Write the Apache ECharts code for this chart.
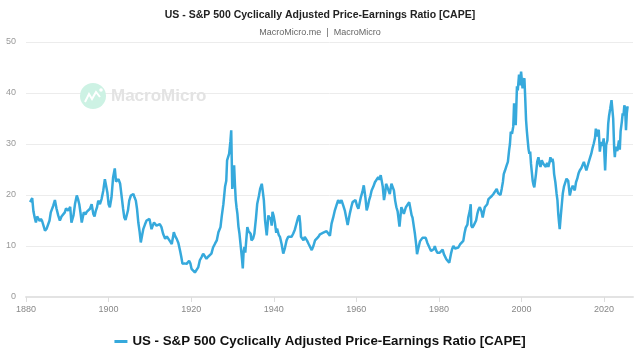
<!DOCTYPE html>
<html>
<head>
<meta charset="utf-8">
<script src="https://cdn.jsdelivr.net/npm/echarts@6/dist/echarts.min.js"></script>
<style>html,body{margin:0;padding:0;background:#fff;}#c{width:640px;height:360px;}</style>
</head>
<body>
<div id="c"></div>
<script>
var titleText = 'US - S&P 500 Cyclically Adjusted Price-Earnings Ratio [CAPE]';
var subText = 'MacroMicro.me  |  MacroMicro';
var seriesName = 'US - S&P 500 Cyclically Adjusted Price-Earnings Ratio [CAPE]';
var yTicks = [0, 10, 20, 30, 40, 50];
var xTicks = [1880, 1900, 1920, 1940, 1960, 1980, 2000, 2020];

var years = [
1881.0,1881.3,1881.5,1881.8,1882.1,1882.4,1882.7,1883.0,1883.3,1883.6,1883.9,1884.2,1884.6,1885.0,1885.4,1885.7,1886.0,1886.3,1886.6,1887.0,
1887.4,1887.8,1888.2,1888.6,1889.0,1889.4,1889.7,1890.2,1890.7,1891.0,1891.5,1891.9,1892.3,1892.6,1892.9,1893.2,1893.5,1894.0,1894.4,1894.7,
1895.1,1895.5,1895.9,1896.3,1896.6,1896.9,1897.2,1897.5,1897.9,1898.3,1898.7,1899.1,1899.4,1899.7,1900.0,1900.3,1900.7,1901.1,1901.5,1901.8,
1902.0,1902.4,1902.8,1903.2,1903.5,1903.8,1904.1,1904.4,1904.7,1905.0,1905.4,1905.7,1906.0,1906.3,1906.6,1906.9,1907.2,1907.5,1907.8,1908.1,
1908.4,1908.8,1909.2,1909.6,1909.9,1910.2,1910.4,1910.7,1911.0,1911.3,1911.6,1912.0,1912.4,1912.8,1913.2,1913.7,1914.1,1914.5,1914.9,1915.3,
1915.8,1916.1,1916.5,1916.9,1917.3,1917.6,1917.9,1918.4,1918.9,1919.2,1919.5,1919.8,1920.1,1920.5,1920.9,1921.3,1921.7,1922.1,1922.5,1922.9,
1923.3,1923.7,1924.1,1924.5,1924.9,1925.3,1925.8,1926.2,1926.6,1927.1,1927.4,1927.8,1928.2,1928.5,1928.7,1929.0,1929.2,1929.5,1929.7,1929.95,
1930.2,1930.4,1930.6,1930.8,1931.0,1931.2,1931.45,1931.7,1932.1,1932.3,1932.5,1932.7,1932.9,1933.1,1933.3,1933.6,1933.9,1934.1,1934.4,1934.6,
1935.0,1935.3,1935.7,1936.0,1936.4,1936.7,1937.1,1937.3,1937.6,1937.9,1938.3,1938.5,1938.7,1939.0,1939.2,1939.5,1939.7,1940.0,1940.3,1940.6,
1940.8,1941.2,1941.5,1941.9,1942.3,1942.7,1943.1,1943.5,1943.9,1944.3,1944.7,1945.1,1945.5,1945.9,1946.2,1946.4,1946.6,1946.9,1947.2,1947.5,
1947.8,1948.1,1948.4,1948.8,1949.2,1949.6,1950.0,1950.4,1950.8,1951.2,1951.6,1952.0,1952.4,1952.8,1953.2,1953.6,1954.0,1954.4,1954.8,1955.2,
1955.6,1956.0,1956.4,1956.8,1957.2,1957.6,1957.9,1958.4,1958.8,1959.1,1959.5,1959.8,1960.2,1960.5,1960.8,1961.1,1961.5,1961.8,1962.2,1962.5,
1962.8,1963.1,1963.4,1963.7,1964.1,1964.5,1964.9,1965.3,1965.6,1965.9,1966.1,1966.4,1966.7,1967.0,1967.2,1967.5,1967.7,1968.1,1968.5,1968.9,
1969.1,1969.4,1969.7,1970.0,1970.45,1970.9,1971.2,1971.5,1972.0,1972.4,1972.8,1973.0,1973.4,1973.6,1974.0,1974.2,1974.5,1974.7,1975.0,1975.4,
1975.7,1976.0,1976.4,1976.8,1977.2,1977.7,1978.1,1978.5,1978.8,1979.0,1979.3,1979.6,1980.2,1980.6,1980.9,1981.2,1981.5,1981.8,1982.2,1982.5,
1982.9,1983.2,1983.5,1983.9,1984.3,1984.7,1985.1,1985.5,1985.9,1986.2,1986.5,1986.9,1987.1,1987.5,1987.7,1987.85,1988.1,1988.4,1988.7,1989.0,
1989.3,1989.6,1989.9,1990.3,1990.6,1990.9,1991.1,1991.4,1991.7,1992.0,1992.4,1992.8,1993.2,1993.6,1994.0,1994.3,1994.6,1994.9,1995.2,1995.5,
1995.7,1996.0,1996.4,1996.7,1997.0,1997.2,1997.4,1997.7,1998.0,1998.2,1998.4,1998.6,1998.9,1999.1,1999.4,1999.6,1999.9,2000.25,2000.5,2000.7,
2000.9,2001.1,2001.3,2001.5,2001.7,2001.9,2002.1,2002.3,2002.5,2002.7,2002.9,2003.1,2003.3,2003.5,2003.8,2004.1,2004.4,2004.6,2004.9,2005.3,
2005.6,2005.9,2006.2,2006.5,2006.8,2007.0,2007.3,2007.5,2007.7,2007.9,2008.2,2008.5,2008.7,2008.9,2009.1,2009.25,2009.5,2009.7,2010.0,2010.3,
2010.5,2010.9,2011.3,2011.7,2012.0,2012.4,2012.9,2013.2,2013.5,2013.8,2014.1,2014.5,2014.8,2015.1,2015.3,2015.7,2016.1,2016.4,2016.7,2016.9,
2017.2,2017.5,2017.8,2018.0,2018.2,2018.4,2018.7,2018.97,2019.2,2019.4,2019.6,2019.9,2020.1,2020.25,2020.5,2020.8,2021.0,2021.2,2021.5,2021.8,
2022.0,2022.2,2022.45,2022.6,2022.8,2023.0,2023.2,2023.4,2023.6,2023.8,2024.0,2024.3,2024.5,2024.7,2024.9,2025.1,2025.3,2025.5,2025.7
];

var cape = [
18.6,18.9,19.4,16.8,15.6,14.6,15.8,15.6,14.9,15.3,14.9,14.6,13.0,13.4,13.5,15.0,16.6,16.9,17.9,19.0,
17.3,16.0,15.0,15.8,16.0,16.6,17.4,16.9,17.7,14.6,16.0,18.4,19.9,19.2,18.2,16.5,14.6,16.6,16.2,16.7,
16.6,17.3,18.2,16.3,15.8,16.9,17.6,18.9,18.2,19.2,20.8,23.1,21.8,20.5,18.2,17.6,19.5,23.5,25.2,22.6,
22.5,23.1,22.2,19.5,17.4,15.6,15.1,15.3,17.0,18.9,19.9,19.6,20.2,19.5,18.9,17.2,14.6,12.9,10.7,12.0,
13.3,14.2,15.0,15.0,15.3,14.1,13.3,14.0,14.6,14.4,14.0,14.0,14.3,13.7,12.4,11.4,11.9,11.7,10.9,10.4,
12.7,12.0,11.4,10.6,9.1,7.9,6.5,6.6,6.5,6.6,7.1,6.6,5.5,5.3,4.8,5.0,5.8,7.2,7.8,8.5,
8.6,7.5,7.9,8.1,8.5,9.7,10.5,11.1,12.7,13.7,15.8,18.2,21.6,22.8,26.8,27.0,28.1,30.5,32.7,21.2,
23.0,25.8,22.0,19.0,17.5,16.3,13.8,12.4,9.2,7.5,5.6,8.9,9.8,8.7,8.5,13.7,12.9,13.1,12.4,11.1,
11.5,12.4,15.5,18.3,19.8,21.2,22.2,21.0,19.0,15.0,12.1,14.0,16.0,15.2,15.7,14.0,16.7,15.8,14.4,12.6,
13.4,12.2,11.8,10.4,8.5,9.6,11.1,11.8,12.1,11.8,12.4,13.2,14.4,15.6,16.0,14.5,11.8,11.6,11.1,11.8,
11.4,11.0,10.5,10.8,9.2,10.0,11.1,11.3,11.8,12.3,12.4,12.6,12.4,12.9,12.7,12.0,14.4,15.6,17.0,18.0,
19.0,18.4,19.0,18.0,17.0,17.0,14.1,16.3,17.7,18.6,18.5,19.0,17.8,17.3,17.5,19.6,20.7,21.9,19.5,17.0,
17.8,19.0,19.8,20.9,21.6,22.5,22.8,23.5,23.0,23.9,24.1,21.6,19.0,20.5,22.2,21.6,21.5,20.2,22.2,22.2,
20.9,18.9,17.6,16.8,13.8,17.6,17.0,16.3,17.6,17.9,18.6,18.6,16.0,15.6,13.4,12.3,10.2,8.4,9.5,10.9,
10.6,11.6,11.8,11.6,10.6,9.7,9.0,8.7,9.4,10.0,9.2,8.7,8.7,9.0,9.3,8.4,8.2,7.4,7.1,6.7,
8.4,9.4,10.0,9.5,9.3,9.7,10.3,10.6,11.0,12.5,13.6,14.2,15.6,17.0,18.2,14.0,13.6,14.0,14.3,15.0,
16.3,17.2,17.6,16.8,15.6,15.7,17.6,17.8,18.2,19.2,19.5,19.8,20.2,20.5,21.2,20.4,20.2,20.0,21.2,22.6,
24.1,24.8,25.8,26.5,28.8,30.0,32.4,32.0,33.4,38.0,36.0,33.7,41.3,40.5,43.6,41.5,44.2,40.9,42.5,42.9,
39.0,34.7,32.5,30.7,29.0,28.1,28.5,26.1,24.5,22.8,22.0,21.5,22.8,24.1,26.5,27.4,26.0,25.5,26.8,26.1,
25.8,25.5,26.3,25.5,26.5,27.4,26.5,27.1,26.3,24.1,22.5,20.2,19.0,16.3,14.5,13.3,15.8,17.6,20.3,21.7,
21.5,23.2,22.8,19.9,21.0,21.8,20.9,22.5,23.2,24.2,24.8,25.3,25.5,26.5,26.8,24.8,24.5,26.8,26.6,28.1,
29.2,30.1,31.2,33.0,31.5,31.6,32.8,28.5,30.0,30.4,29.6,31.1,31.2,24.8,29.8,30.7,34.0,35.5,37.0,38.6,
36.8,35.0,29.0,27.4,29.5,29.4,28.6,28.8,30.7,28.9,32.5,34.4,36.0,35.6,37.6,37.0,32.7,36.0,37.4
];

var seriesData = years.map(function (y, i) { return [y, cape[i]]; });

var chart = echarts.init(document.getElementById('c'), null, {renderer: 'canvas'});
var lineColor = '#36a9dc';
var font = "'Liberation Sans', Arial, sans-serif";

chart.setOption({
  animation: false,
  backgroundColor: '#ffffff',
  title: {
    text: titleText,
    subtext: subText,
    left: 'center',
    top: 5,
    itemGap: 7,
    textStyle: {fontFamily: font, fontSize: 10.5, fontWeight: 'bold', color: '#222'},
    subtextStyle: {fontFamily: font, fontSize: 9, color: '#666'}
  },
  legend: {
    data: [seriesName],
    left: 'center',
    top: 330,
    icon: 'rect',
    itemWidth: 13,
    itemHeight: 3,
    itemGap: 10,
    textStyle: {fontFamily: font, fontSize: 13.3, fontWeight: 'bold', color: '#111'}
  },
  graphic: [
    {type: 'circle', z: 1, shape: {cx: 93, cy: 96, r: 13}, style: {fill: '#cdf2e4'}},
    {type: 'polyline', z: 1, shape: {points: [[85, 102], [89, 94], [92, 99], [96, 92], [100, 97]]},
     style: {stroke: '#ffffff', lineWidth: 2, fill: null}},
    {type: 'circle', z: 1, shape: {cx: 101, cy: 90, r: 1.8}, style: {fill: '#ffffff'}},
    {type: 'text', z: 1, style: {x: 111, y: 96, text: 'MacroMicro', fill: '#e3e3e3',
      font: "bold 17px 'Liberation Sans', Arial, sans-serif", verticalAlign: 'middle', align: 'left'}}
  ],
  grid: {left: 26, right: 7, top: 42, bottom: 63, containLabel: false},
  xAxis: {
    type: 'value',
    min: xTicks[0],
    max: 2027,
    interval: 20,
    axisLine: {show: true, lineStyle: {color: '#e3e3e3', width: 2}},
    axisTick: {show: true, length: 5, lineStyle: {color: '#dddddd'}},
    axisLabel: {color: '#888', fontSize: 9, fontFamily: font, margin: 8, showMaxLabel: false,
      formatter: function (v) { return xTicks.indexOf(v) >= 0 ? String(v) : ''; }},
    splitLine: {show: false}
  },
  yAxis: {
    type: 'value',
    min: yTicks[0],
    max: yTicks[yTicks.length - 1],
    interval: 10,
    axisLine: {show: false},
    axisTick: {show: false},
    axisLabel: {color: '#999', fontSize: 9, fontFamily: font, margin: 10},
    splitLine: {lineStyle: {color: '#ececec', width: 1}}
  },
  series: [{
    name: seriesName,
    type: 'line',
    data: seriesData,
    showSymbol: false,
    z: 3,
    color: lineColor,
    lineStyle: {color: lineColor, width: 2.5}
  }]
});
</script>
</body>
</html>
